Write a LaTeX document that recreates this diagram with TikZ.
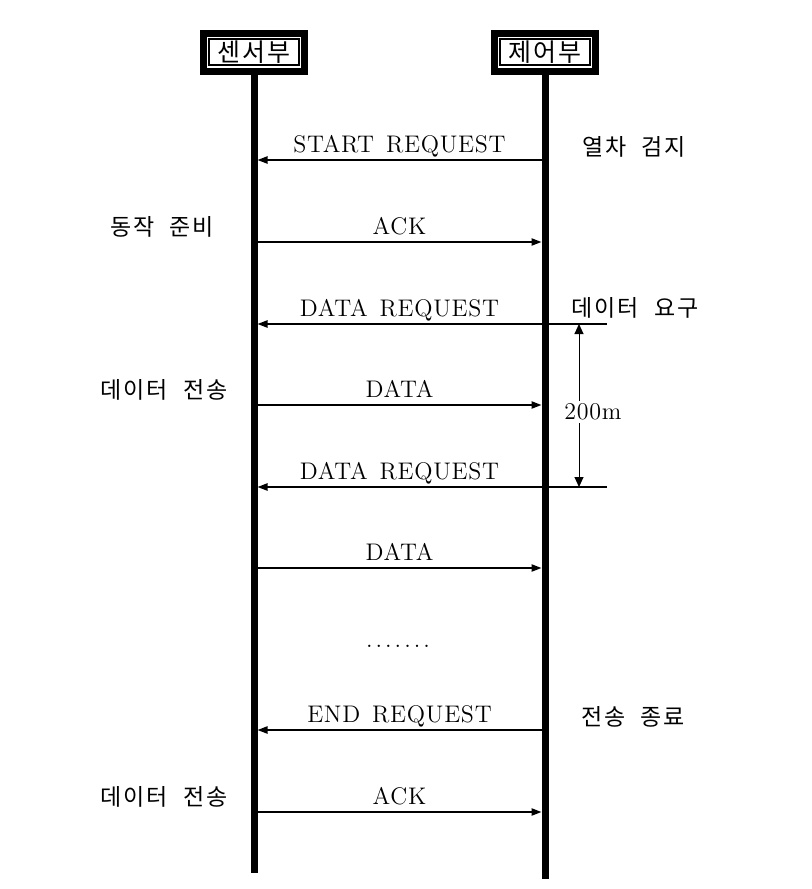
\documentclass[tikz,border=0pt]{standalone}
\usepackage{fontspec}
\setmainfont{Latin Modern Roman}[LetterSpace=3, WordSpace=1.4]
\newfontfamily\kr[LetterSpace=8,WordSpace=2.2]{Noto Sans CJK KR}
\usetikzlibrary{arrows.meta}

\begin{document}
\begin{tikzpicture}[x=0.5pt, y=-0.5pt,
  lifeline/.style={line width=3.5pt},
  hdrin/.style={draw, line width=0.9pt, minimum width=45pt, minimum height=13pt, inner sep=0pt, font=\fontsize{12.5}{14}\kr},
  hdrout/.style={draw, line width=3.5pt, minimum width=50.5pt, minimum height=19pt, inner sep=0pt},
  msg/.style={line width=0.85pt, shorten >=1.75pt, -{Triangle[length=5pt,width=3.6pt]}},
  lbl/.style={above, text depth=0pt, inner sep=3.5pt, font=\fontsize{12}{14}\selectfont},
  side/.style={font=\fontsize{11.5}{13}\kr},
  dimline/.style={line width=0.5pt, {Triangle[length=5pt,width=4.5pt]}-{Triangle[length=5pt,width=4.5pt]}}]

\path[fill=white] (0,0) rectangle (811,889);
\useasboundingbox (0,0) rectangle (811,889);

% headers and lifelines
\node[hdrin] (sb) at (254,52) {센서부};
\node[hdrout] (sbo) at (sb) {};
\node[hdrin] (cb) at (545,52) {제어부};
\node[hdrout] (cbo) at (cb) {};
\coordinate (sbend) at (254,873);
\coordinate (cbend) at (545,879);
\draw[lifeline] (sbo.south) -- (sbend);
\draw[lifeline] (cbo.south) -- (cbend);

\foreach \n/\y in {1/160,2/242,3/324,4/405,5/487,6/568,8/730,9/812} {
  \coordinate (s\n) at (254,\y);
  \coordinate (c\n) at (545,\y);
}
\coordinate (r3) at (607,324);
\coordinate (r5) at (607,487);

% messages
\draw[msg] (c1) -- node[lbl] {START REQUEST} (s1);
\draw[msg] (s2) -- node[lbl] {ACK} (c2);
\draw[msg] (r3) -- (c3) -- node[lbl] {DATA REQUEST} (s3);
\draw[msg] (s4) -- node[lbl] {DATA} (c4);
\draw[msg] (r5) -- (c5) -- node[lbl] {DATA REQUEST} (s5);
\draw[msg] (s6) -- node[lbl] {DATA} (c6);
\node[font=\fontsize{12}{14}\selectfont] (dots) at (398,646) {.\hspace{1.5pt}.\hspace{1.5pt}.\hspace{1.5pt}.\hspace{1.5pt}.\hspace{1.5pt}.\hspace{1.5pt}.};
\draw[msg] (c8) -- node[lbl] {END REQUEST} (s8);
\draw[msg] (s9) -- node[lbl] {ACK} (c9);

% 200m
\coordinate (d1) at (579,324);
\coordinate (d2) at (579,487);
\draw[dimline] (d1) -- (d2);
\node[fill=white, inner sep=1.5pt, font=\fontsize{12}{14}\selectfont] (dist) at (593,412) {200m};

% side notes
\node[side] (t1) at (634,147) {열차 검지};
\node[side] (t2) at (162,227) {동작 준비};
\node[side] (t3) at (635,308) {데이터 요구};
\node[side] (t4) at (164,390) {데이터 전송};
\node[side] (t8) at (633,717) {전송 종료};
\node[side] (t9) at (164,797) {데이터 전송};
\end{tikzpicture}
\end{document}
